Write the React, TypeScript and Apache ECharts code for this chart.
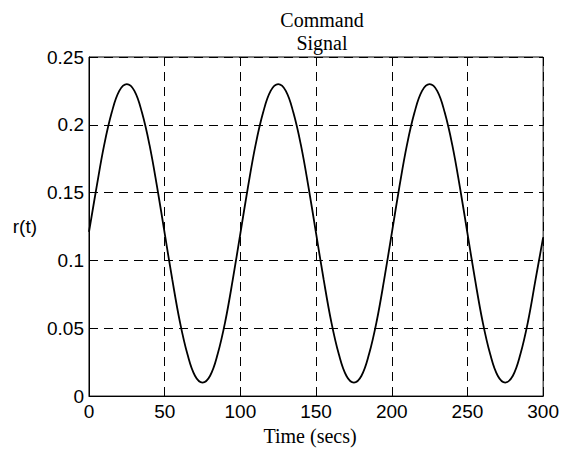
import React, { useEffect, useRef } from "react";
import * as echarts from "echarts";

const timeSecs: number[] = [
  0, 5, 10, 15, 20, 25, 30, 35, 40, 45, 50, 55, 60, 65, 70, 75, 80, 85, 90, 95,
  100, 105, 110, 115, 120, 125, 130, 135, 140, 145, 150, 155, 160, 165, 170, 175, 180, 185, 190, 195,
  200, 205, 210, 215, 220, 225, 230, 235, 240, 245, 250, 255, 260, 265, 270, 275, 280, 285, 290, 295,
  300,
];

const commandSignal: number[] = [
  0.121, 0.154, 0.185, 0.209, 0.225, 0.23, 0.225, 0.209, 0.185, 0.154, 0.12, 0.086, 0.055, 0.031, 0.015, 0.01, 0.015, 0.031, 0.055, 0.086,
  0.12, 0.154, 0.185, 0.209, 0.225, 0.23, 0.225, 0.209, 0.185, 0.154, 0.12, 0.086, 0.055, 0.031, 0.015, 0.01, 0.015, 0.031, 0.055, 0.086,
  0.12, 0.154, 0.185, 0.209, 0.225, 0.23, 0.225, 0.209, 0.185, 0.154, 0.12, 0.086, 0.055, 0.031, 0.015, 0.01, 0.015, 0.031, 0.055, 0.086,
  0.117,
];

const titleLines: string[] = ["Command", "Signal"];
const xLabel = "Time (secs)";
const yLabel = "r(t)";

export default function App() {
  const ref = useRef<HTMLDivElement>(null);
  useEffect(() => {
    if (!ref.current) return;
    const chart = echarts.init(ref.current, null, { renderer: "svg" });
    const sans = "'Liberation Sans', Arial, sans-serif";
    const serif = "'Liberation Serif', 'Times New Roman', serif";
    chart.setOption({
      animation: false,
      backgroundColor: "#ffffff",
      title: {
        text: titleLines.join("\n"),
        left: 317,
        textAlign: "center",
        top: 3,
        textStyle: {
          fontFamily: serif,
          fontSize: 20,
          fontWeight: "normal",
          color: "#000",
          lineHeight: 23,
        },
      },
      grid: {
        left: 89,
        right: 18,
        top: 57,
        bottom: 45,
        show: true,
        borderColor: "#000",
        borderWidth: 1,
        backgroundColor: "transparent",
      },
      xAxis: {
        type: "value",
        min: 0,
        max: 300,
        interval: 50,
        name: xLabel,
        nameLocation: "middle",
        nameGap: 24,
        nameTextStyle: {
          fontFamily: serif,
          fontSize: 20,
          color: "#000",
          padding: [0, 12, 0, 0],
        },
        axisLine: { show: true, lineStyle: { color: "#000", width: 1 } },
        axisTick: { show: true, inside: true, length: 5, lineStyle: { color: "#000" } },
        axisLabel: {
          fontFamily: sans,
          fontSize: 19,
          color: "#000",
          margin: 6,
        },
        splitLine: {
          show: true,
          lineStyle: { color: "#000", width: 1, type: [9, 6] },
        },
      },
      yAxis: {
        type: "value",
        min: 0,
        max: 0.25,
        interval: 0.05,
        name: yLabel,
        nameLocation: "middle",
        nameRotate: 0,
        nameGap: 52,
        nameTextStyle: {
          fontFamily: sans,
          fontSize: 19,
          color: "#000",
        },
        axisLine: { show: true, lineStyle: { color: "#000", width: 1 } },
        axisTick: { show: true, inside: true, length: 5, lineStyle: { color: "#000" } },
        axisLabel: {
          fontFamily: sans,
          fontSize: 19,
          color: "#000",
          margin: 5,
        },
        splitLine: {
          show: true,
          lineStyle: { color: "#000", width: 1, type: [9, 6] },
        },
      },
      series: [
        {
          type: "line",
          data: timeSecs.map((t, i) => [t, commandSignal[i]]),
          smooth: 0.4,
          showSymbol: false,
          lineStyle: { color: "#000", width: 1.8 },
        },
      ],
    });
    return () => chart.dispose();
  }, []);
  return (
    <div
      ref={ref}
      style={{ position: "fixed", left: 0, top: 0, width: 562, height: 451 }}
    />
  );
}
